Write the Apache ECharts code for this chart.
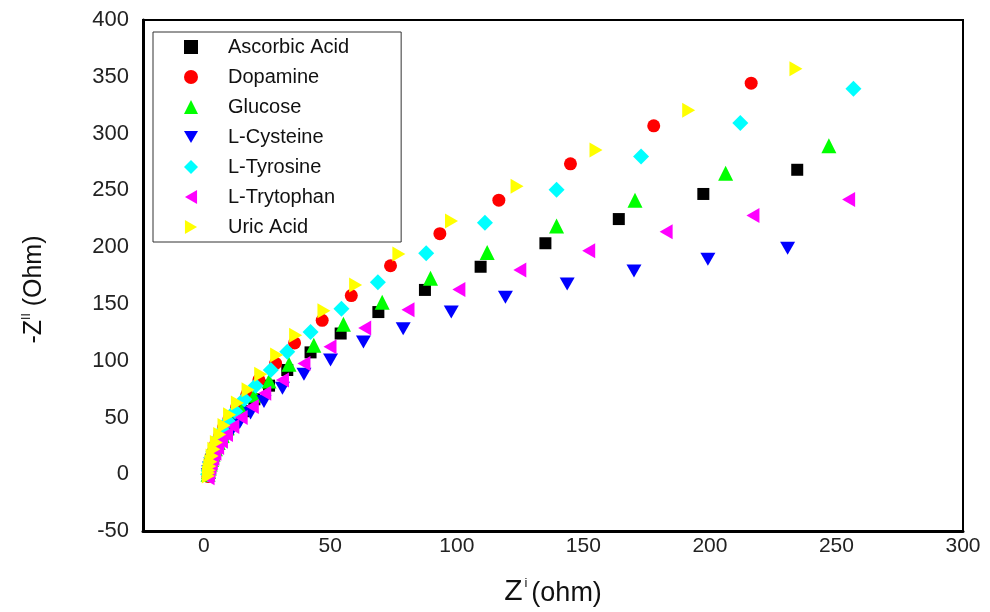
<!DOCTYPE html>
<html lang="en">
  <head>
    <meta charset="UTF-8" />
    <title>Nyquist plot</title>
    <script src="https://cdn.jsdelivr.net/npm/echarts@6.0.0/dist/echarts.min.js"></script>
    <style>
      body { margin: 0; background: #fff; }
    </style>
  </head>

  <body>
    <div id="main" style="width: 990px; height: 612px"></div>

    <script type="text/javascript">
      // points, [Z' , -Z''] in ohm
      const ascorbicAcid = [
        [234.5, 268.1], [197.4, 246.8], [164, 224.7], [135, 203.4], [109.4, 182.7],
        [87.4, 162.3], [69, 142.8], [54.1, 123.9], [42.2, 107.3], [33, 91.8],
        [25.8, 78], [20, 66], [15.5, 55.5], [12, 46.5], [9.3, 39], [7.3, 32.5],
        [5.7, 26.5], [4.6, 21.5], [3.7, 17], [3.1, 12.5], [2.6, 8.5], [2.2, 5],
        [1.9, 2], [1.7, -0.5]
      ];
      const dopamine = [
        [216.3, 344.4], [177.8, 306.8], [144.9, 273.3], [116.6, 241.3], [93.3, 211.8],
        [73.8, 183.6], [58.3, 157.3], [46.8, 135.5], [35.9, 115.6], [28.4, 97.6],
        [21.8, 83], [17, 70], [13, 59], [10, 49], [7.8, 41], [6.1, 33], [4.8, 26.5],
        [3.9, 20.5], [3.2, 15], [2.7, 10.5], [2.3, 6.5], [2, 3], [1.8, 0.5], [1.7, -2]
      ];
      const glucose = [
        [247, 289.3], [206.2, 265.1], [170.4, 241.3], [139.4, 218.5], [112, 195.2],
        [89.6, 172.5], [70.5, 151.5], [55.2, 132], [43.5, 113.6], [33.7, 96.8],
        [25.8, 82.2], [20, 69.5], [15.5, 58.5], [12, 49], [9.3, 41], [7.3, 34],
        [5.7, 28], [4.6, 22.5], [3.7, 17.5], [3.1, 13], [2.6, 9], [2.2, 5.5],
        [1.9, 2.5], [1.7, 0]
      ];
      const lCysteine = [
        [230.7, 199], [199.2, 189.4], [170, 178.9], [143.6, 167.6], [119.2, 155.9],
        [97.8, 142.8], [78.8, 128.2], [63.1, 116.5], [50.1, 100.5], [39.6, 88],
        [31.1, 75.8], [23.8, 64.1], [18.5, 54], [14.2, 45.5], [11, 38], [8.5, 31.5],
        [6.6, 26], [5.2, 21], [4.2, 16.5], [3.4, 12.5], [2.8, 9], [2.3, 5.5],
        [2, 2.5], [1.8, -0.5]
      ];
      const lTyrosine = [
        [256.7, 339.4], [212, 309.4], [172.8, 279.7], [139.4, 250.6], [111.1, 221.5],
        [87.9, 194.7], [68.8, 169], [54.4, 145.7], [42.2, 125.3], [33, 107.8],
        [26.5, 91.8], [20.5, 78], [16, 66], [12.4, 55.5], [9.6, 46.5], [7.5, 38.5],
        [5.9, 31.5], [4.7, 25.5], [3.8, 20], [3.1, 15], [2.6, 10.5], [2.2, 6.5],
        [1.9, 3], [1.7, 0]
      ];
      const lTrytophan = [
        [254.8, 241.9], [217, 227.9], [182.7, 213.6], [152.1, 196.7], [124.9, 179.8],
        [100.8, 162.6], [80.7, 144.8], [63.6, 128.8], [49.9, 112.2], [39.6, 97.6],
        [31.1, 83], [24.1, 71.4], [19.2, 59.7], [14.8, 50], [11.5, 42], [9, 35],
        [7, 29], [5.5, 23.5], [4.4, 18.5], [3.6, 14], [3, 10], [2.5, 6.5],
        [2.1, 3], [1.9, 0], [1.7, -3]
      ];
      const uricAcid = [
        [234, 357], [191.6, 320.5], [155, 285.5], [123.8, 253.5], [97.9, 223],
        [77.1, 194], [60, 166.7], [47.5, 144], [36.3, 122.4], [28.8, 105],
        [22.5, 88], [17.5, 74.3], [13.3, 62.7], [10.2, 52.4], [8, 43], [6.3, 35],
        [5, 28], [4, 22], [3.3, 16], [2.8, 11], [2.4, 7], [2.1, 3.5], [1.9, 1],
        [1.8, -1.5]
      ];

      const seriesNames = ["Ascorbic Acid", "Dopamine", "Glucose", "L-Cysteine", "L-Tyrosine", "L-Trytophan", "Uric Acid"];
      const seriesData = [ascorbicAcid, dopamine, glucose, lCysteine, lTyrosine, lTrytophan, uricAcid];
      const xTicks = [0, 50, 100, 150, 200, 250, 300];

      // triangle shapes pointing down / left / right
      const triDown = "path://M0,0 L10,0 L5,8.66 Z";
      const triLeft = "path://M8.66,0 L8.66,10 L0,5 Z";
      const triRight = "path://M0,0 L8.66,5 L0,10 Z";

      // marker look for each series
      const looks = [
        { symbol: "rect", size: 12, color: "#000000" },
        { symbol: "circle", size: 13, color: "#ff0000" },
        { symbol: "triangle", size: 15, color: "#00ff00" },
        { symbol: triDown, size: 15, color: "#0000ff" },
        { symbol: "diamond", size: 16, color: "#00ffff" },
        { symbol: triLeft, size: 15, color: "#ff00ff" },
        { symbol: triRight, size: 15, color: "#ffff00" }
      ];

      const font = "Liberation Sans, Arial, sans-serif";

      let myChart = echarts.init(document.getElementById("main"));

      let options = {
        animation: false,
        backgroundColor: "#fff",
        grid: {
          left: 143,
          top: 20,
          right: 27,
          bottom: 74,
          show: true,
          borderColor: "#000",
          borderWidth: 2
        },
        legend: {
          orient: "vertical",
          left: 153,
          top: 32,
          padding: [5, 52, 5, 31],
          itemWidth: 14,
          itemHeight: 14,
          itemGap: 10,
          borderColor: "#333",
          borderWidth: 1,
          backgroundColor: "#fff",
          textStyle: {
            fontFamily: font,
            fontSize: 20,
            lineHeight: 20,
            color: "#111",
            padding: [0, 0, 0, 25]
          },
          data: seriesNames.map((n, i) => ({
            name: n,
            icon: looks[i].symbol,
            itemStyle: { color: looks[i].color }
          }))
        },
        xAxis: {
          type: "value",
          min: -24,
          max: 300,
          axisLine: { show: true, onZero: false, lineStyle: { color: "#000", width: 3 } },
          axisTick: { show: false },
          splitLine: { show: false },
          axisLabel: {
            customValues: xTicks,
            margin: 5,
            fontFamily: font,
            fontSize: 21,
            color: "#222"
          },
          name: "{z|Z}{sup|i}{t|(ohm)}",
          nameLocation: "middle",
          nameGap: 46,
          nameTextStyle: {
            rich: {
              z: { fontFamily: font, fontSize: 30, color: "#111", verticalAlign: "bottom" },
              sup: { fontFamily: font, fontSize: 13, color: "#111", verticalAlign: "top", padding: [0, 4, 14, 2] },
              t: { fontFamily: font, fontSize: 27, color: "#111", verticalAlign: "bottom" }
            }
          }
        },
        yAxis: {
          type: "value",
          min: -50,
          max: 400,
          interval: 50,
          axisLine: { show: true, onZero: false, lineStyle: { color: "#000", width: 3 } },
          axisTick: { show: false },
          splitLine: { show: false },
          axisLabel: {
            margin: 14,
            fontFamily: font,
            fontSize: 22,
            color: "#222"
          },
          name: "{t|-Z}{sup|II}{t| (Ohm)}",
          nameLocation: "middle",
          nameGap: 96,
          nameTextStyle: {
            padding: [0, 28, 0, 0],
            rich: {
              t: { fontFamily: font, fontSize: 25, color: "#111" },
              sup: { fontFamily: font, fontSize: 12, color: "#111", padding: [0, 0, 14, 0] }
            }
          }
        },
        series: seriesData.map((data, i) => ({
          name: seriesNames[i],
          type: "scatter",
          data: data,
          symbol: looks[i].symbol,
          symbolSize: looks[i].size,
          symbolKeepAspect: true,
          itemStyle: { color: looks[i].color, opacity: 1 }
        }))
      };

      myChart.setOption(options);
    </script>
  </body>
</html>
